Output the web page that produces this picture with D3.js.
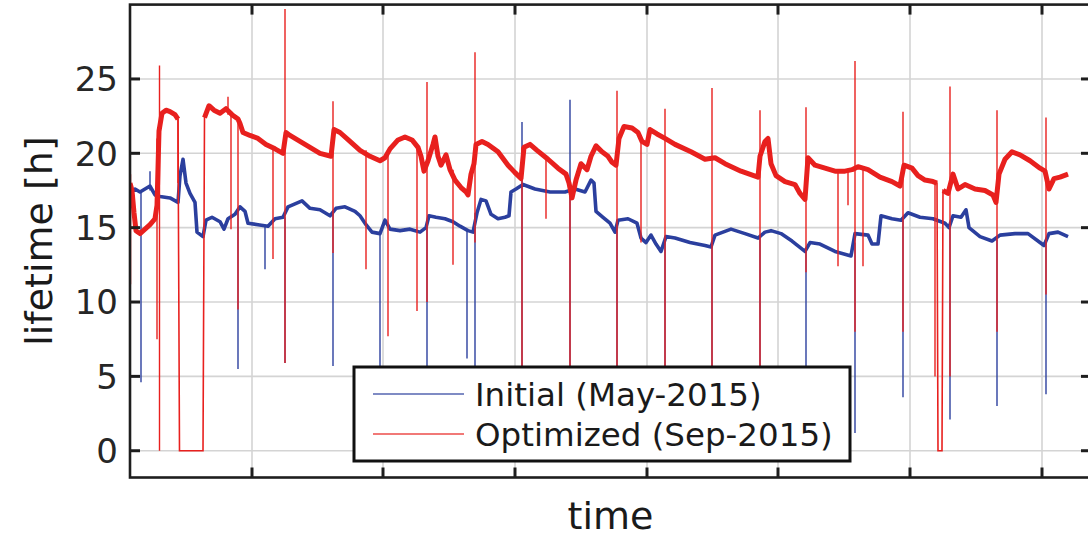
<!DOCTYPE html>
<html><head><meta charset="utf-8">
<script src="https://cdn.jsdelivr.net/npm/d3@7/dist/d3.min.js"></script>
<style>html,body{margin:0;padding:0;background:#fff;}svg{display:block;}</style>
</head><body>
<svg id="chart" width="1088" height="537"></svg>
<script>
// ---- data (time in arbitrary sample units, lifetime in hours) ----
const yTicks = [0, 5, 10, 15, 20, 25];
const xTicks = [122, 253, 385, 517, 648, 780, 912];
const seriesNames = ["Initial (May-2015)", "Optimized (Sep-2015)"];

const blueX = [0,5,10,15,20,25,30,40,48,50,53,56,60,65,67,73,76,82,90,94,98,105,110,115,118,128,138,145,153,158,165,172,180,190,200,206,215,225,230,236,242,250,255,260,270,280,290,296,299,306,315,323,330,338,343,347,351,356,361,368,375,379,381,386,393,405,420,435,445,455,461,464,466,473,480,485,488,498,507,511,516,521,526,531,536,545,560,575,581,585,601,615,628,635,641,651,662,675,680,690,705,721,725,738,742,748,751,762,771,778,790,803,815,819,823,831,836,839,850,862,870,885,898,910,914,919,928,938];
const blueY = [17.4,17.6,17.4,17.6,17.8,17.2,17.1,17.0,16.7,18.5,19.6,18.0,17.3,16.7,14.7,14.4,15.5,15.7,15.4,14.9,15.6,15.9,16.4,16.1,15.3,15.2,15.1,15.6,15.7,16.4,16.6,16.8,16.3,16.2,15.8,16.3,16.4,16.1,15.8,15.2,14.7,14.6,15.5,14.9,14.8,14.9,14.7,15.0,15.8,15.7,15.6,15.4,15.1,14.8,14.7,16.0,16.9,16.8,15.9,15.6,15.7,15.8,17.4,17.6,17.9,17.6,17.4,17.4,17.6,17.4,18.2,18.0,16.1,15.7,15.3,14.7,15.5,15.6,15.3,14.3,14.0,14.5,13.9,13.4,14.4,14.3,14.0,13.8,13.7,14.5,14.9,14.6,14.3,14.7,14.8,14.6,14.1,13.4,14.0,13.9,13.4,13.1,14.6,14.5,13.9,13.9,15.8,15.6,15.5,16.0,15.7,15.6,15.3,15.0,15.8,15.7,16.2,15.0,14.4,14.1,14.5,14.6,14.6,14.0,13.8,14.6,14.7,14.4];

const redX = [0,2,4,6,10,15,20,25,27,29,32,36,40,45,48,49.5,73,74.5,79,84,90,96,102,108,110,113,120,128,136,145,153,156,160,170,180,190,201,204,210,220,230,240,250,255,260,268,275,282,288,291,294,298,303,305,308,311,316,320,325,331,336,338,341,344,346,352,358,368,378,385,391,394,400,407,418,428,436,439,442,446,451,457,461,466,472,478,482,486,489,494,502,508,512,517,520,527,535,545,561,575,585,595,611,628,630,635,638,641,646,655,665,670,675,678,685,695,705,715,722,728,738,750,762,770,774,782,788,795,803,807,808,812,813,818,823,828,835,845,855,863,866,869,875,882,890,900,910,915,919,924,930,938];
const redY = [18.0,17.5,16.0,14.8,14.6,14.9,15.2,15.6,16.5,21.5,22.7,22.9,22.8,22.6,22.3,0,0,22.4,23.2,22.9,22.7,23.0,22.6,22.3,22.0,21.4,21.2,21.0,20.6,20.3,20.0,21.4,21.2,20.8,20.4,20.0,19.8,21.6,21.4,20.8,20.2,19.8,19.5,19.7,20.3,20.9,21.1,20.9,20.4,19.8,18.8,19.5,20.6,21.1,19.8,19.2,19.9,18.9,18.2,17.7,17.4,17.2,18.6,19.3,20.6,20.8,20.6,20.1,19.2,18.7,18.3,20.4,20.6,20.2,19.6,19.0,18.6,18.0,17.0,18.2,19.3,18.9,19.8,20.5,20.1,19.8,19.4,19.2,21.0,21.8,21.7,21.4,20.8,20.6,21.6,21.3,21.0,20.6,20.1,19.6,19.7,19.3,18.8,18.4,19.8,20.8,21.0,19.3,18.5,18.1,17.9,17.3,16.9,19.7,19.2,19.0,18.8,18.8,18.9,19.1,18.9,18.4,18.1,17.8,19.2,19.0,18.5,18.2,18.1,18.0,0,0,17.5,17.3,18.6,17.6,17.9,17.6,17.5,17.2,16.7,18.6,19.6,20.1,19.9,19.5,19.0,18.8,17.6,18.3,18.4,18.6];

// short excursions (beam dumps / injections): time, lowest value, highest value
const blueSpikeX  = [11,20,108,135,155,203,250,297,337,345,392,440,487,535,582,630,676,725,773,820,867,916];
const blueSpikeLo = [4.6,17.5,5.5,12.2,5.9,5.7,1.5,1.5,6.2,1.0,1.0,1.0,1.0,1.0,1.0,1.0,1.0,1.2,3.6,2.1,3.0,3.8];
const blueSpikeHi = [17.5,18.8,16.2,15.2,15.7,16.0,14.6,15.0,14.8,16.0,22.1,23.6,15.5,14.4,14.0,14.4,13.4,14.0,15.5,15.2,14.2,14.2];

const redSpikeX  = [0.5,27,29.5,48,98,101,108,143,155,203,236,258,287,297,323,345,392,416,440,487,511,535,582,630,676,708,718,725,733,773,805,820,867,916];
const redSpikeLo = [11.2,7.5,0,18.0,22.6,14.9,9.5,12.9,5.9,13.3,12.2,7.7,9.4,10.0,12.5,14.0,3.0,15.6,2.0,2.0,14.0,2.0,2.0,2.0,12.0,12.4,16.5,8.0,12.4,8.0,5.0,5.0,8.0,10.5];
const redSpikeHi = [18.6,21.0,25.9,22.3,23.8,22.6,22.3,20.3,29.7,23.5,20.2,20.0,20.5,24.8,18.9,26.8,20.4,19.7,18.0,24.2,20.8,23.0,24.4,22.9,23.1,18.8,18.8,26.2,19.0,22.8,18.0,24.5,22.9,22.4];

// ---- drawing ----
const W = 1088, H = 537;
const L = 130, R = 1091, T = 4.6, B = 477.5;
const BLUE = "#2b3f9e", RED = "#e8201e";
const svg = d3.select("#chart");
svg.append("rect").attr("width", W).attr("height", H).attr("fill", "#fff");

const x = d3.scaleLinear().domain([0, 961]).range([L, R]);
const y = d3.scaleLinear().domain([-1.8, 30]).range([B, T]);

svg.append("defs").append("clipPath").attr("id", "clip")
  .append("rect").attr("x", L).attr("y", T).attr("width", R - L).attr("height", B - T);

// grid
const grid = svg.append("g").attr("stroke", "#d4d4d4").attr("stroke-width", 1.6);
grid.selectAll(".gy").data(yTicks).join("line")
  .attr("x1", L).attr("x2", R).attr("y1", d => y(d)).attr("y2", d => y(d));
grid.selectAll(".gx").data(xTicks).join("line")
  .attr("y1", T).attr("y2", B).attr("x1", d => x(d)).attr("x2", d => x(d));

const plot = svg.append("g").attr("clip-path", "url(#clip)");
const thin = d3.line().x(d => x(d[0])).y(d => y(d[1]));
const thick = d3.line().defined(d => d[1] > 0).x(d => x(d[0])).y(d => y(d[1]));

function drawSpikes(xs, lo, hi, color) {
  plot.append("g").selectAll("line").data(xs.map((t, i) => [t, lo[i], hi[i]])).join("line")
    .attr("x1", d => x(d[0])).attr("x2", d => x(d[0]))
    .attr("y1", d => y(d[1])).attr("y2", d => y(d[2]))
    .attr("stroke", color).attr("stroke-width", 1.4);
}
function drawTrace(xs, ys, color, w) {
  const pts = xs.map((t, i) => [t, ys[i]]);
  plot.append("path").datum(pts).attr("d", thin).attr("fill", "none")
    .attr("stroke", color).attr("stroke-width", 1.6);
  plot.append("path").datum(pts).attr("d", thick).attr("fill", "none")
    .attr("stroke", color).attr("stroke-width", w).attr("stroke-linejoin", "round");
}

drawSpikes(blueSpikeX, blueSpikeLo, blueSpikeHi, BLUE);
drawTrace(blueX, blueY, BLUE, 3.6);
drawSpikes(redSpikeX, redSpikeLo, redSpikeHi, RED);
drawTrace(redX, redY, RED, 5);

// frame and ticks
const axc = "#1e1e1e";
svg.append("rect").attr("x", L).attr("y", T).attr("width", R - L).attr("height", B - T)
  .attr("fill", "none").attr("stroke", axc).attr("stroke-width", 2.6);
const tk = svg.append("g").attr("stroke", axc).attr("stroke-width", 3);
yTicks.forEach(v => {
  tk.append("line").attr("x1", L).attr("x2", L + 10).attr("y1", y(v)).attr("y2", y(v));
  tk.append("line").attr("x1", R).attr("x2", R - 10).attr("y1", y(v)).attr("y2", y(v));
});
xTicks.forEach(t => {
  tk.append("line").attr("y1", B).attr("y2", B - 10).attr("x1", x(t)).attr("x2", x(t));
  tk.append("line").attr("y1", T).attr("y2", T + 10).attr("x1", x(t)).attr("x2", x(t));
});

const font = "'DejaVu Sans', sans-serif";
svg.append("g").selectAll("text").data(yTicks).join("text")
  .attr("x", L - 12).attr("y", d => y(d)).attr("dy", "0.36em")
  .attr("text-anchor", "end").attr("font-family", font).attr("font-size", 34)
  .attr("fill", "#262626").text(d => d);

svg.append("text").attr("x", (L + R) / 2).attr("y", 529).attr("text-anchor", "middle")
  .attr("font-family", font).attr("font-size", 38).attr("fill", "#1a1a1a").text("time");
svg.append("text").attr("transform", `translate(52,${(T + B) / 2}) rotate(-90)`)
  .attr("text-anchor", "middle").attr("font-family", font).attr("font-size", 38)
  .attr("fill", "#1a1a1a").text("lifetime [h]");

// legend
const lg = svg.append("g");
lg.append("rect").attr("x", 354).attr("y", 367).attr("width", 496).attr("height", 94)
  .attr("fill", "#fff").attr("stroke", "#111").attr("stroke-width", 3);
[BLUE, RED].forEach((c, i) => {
  const yy = 394 + i * 40;
  lg.append("line").attr("x1", 373).attr("x2", 464).attr("y1", yy).attr("y2", yy)
    .attr("stroke", c).attr("stroke-width", 1.3).attr("opacity", 0.8);
  lg.append("text").attr("x", 475).attr("y", yy + 12).attr("font-family", font)
    .attr("font-size", 32.5).attr("fill", "#1a1a1a").text(seriesNames[i]);
});
</script>
</body></html>
